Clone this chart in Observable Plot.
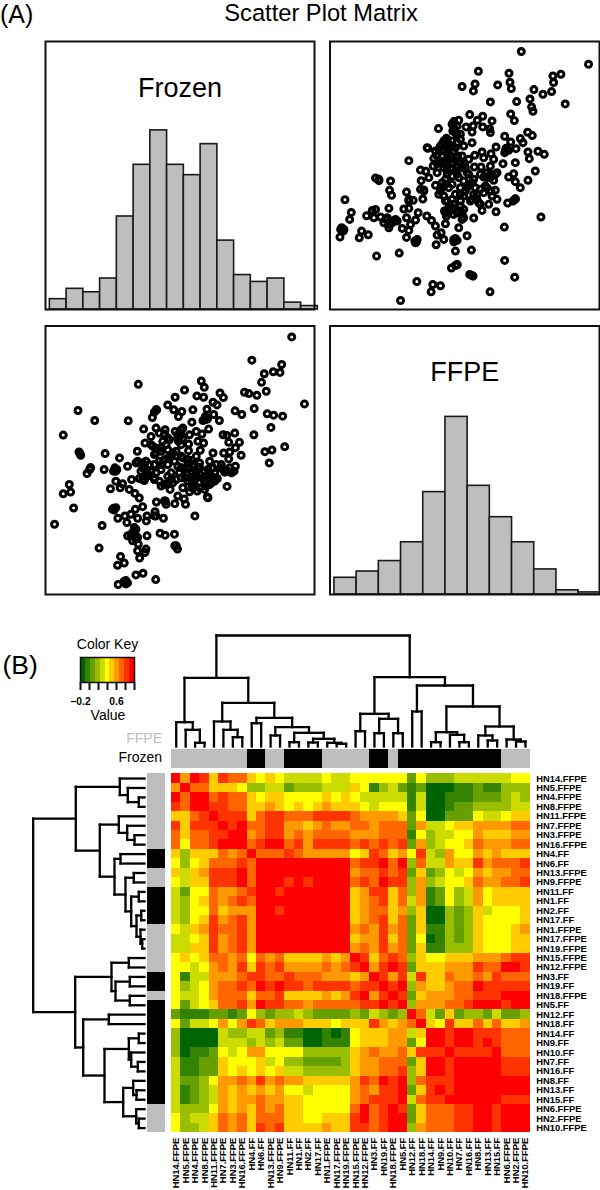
<!DOCTYPE html>
<html>
<head>
<meta charset="utf-8">
<script src="https://cdn.jsdelivr.net/npm/d3@7"></script>
<script src="https://cdn.jsdelivr.net/npm/@observablehq/plot@0.6"></script>
<style>
html,body{margin:0;padding:0;background:#fff;}
#page{position:relative;width:600px;height:1190px;overflow:hidden;font-family:"Liberation Sans",Arial,sans-serif;color:#000;}
#page svg{position:absolute;overflow:visible;background:transparent;}
.t{position:absolute;line-height:0.8;white-space:nowrap;}
</style>
</head>
<body>
<div id="page"></div>
<script>
// ---------- panel (A): histogram counts
const frozenEdges = [-4,-3.5,-3,-2.5,-2,-1.5,-1,-0.5,0,0.5,1,1.5,2,2.5,3,3.5,4];
const frozenCounts = [3,6,5,9,27,42,52,42,39,48,20,10,8,9,2,1];
const ffpeEdges = [-3,-2.5,-2,-1.5,-1,-0.5,0,0.5,1,1.5,2,2.5,3];
const ffpeCounts = [8,11,16,25,49,85,52,37,25,12,2,1];

// ---------- panel (A): paired scores (estimated, arbitrary units; frozen runs high-to-low)
const scorePairs = [
[603,62],[805,100],[474,121],[566,127],[722,130],[698,135],[700,155],[569,154],[464,159],[532,162],[425,167],[573,173],[459,180],[641,176],[694,182],[668,190],[629,204],[510,213],[589,212],[735,219],[634,228],[638,241],[448,251],[571,249],[487,256],[582,269],[471,268],[515,270],[415,268],[400,272],[395,280],[437,288],[458,285],[487,288],[508,294],[354,293],[510,305],[455,303],[397,300],[410,310],[622,304],[636,314],[553,316],[600,323],[571,333],[608,335],[455,335],[420,325],[378,322],[370,330],[360,345],[385,340],[405,350],[430,345],[322,352],[527,348],[587,353],[557,352],[553,365],[565,358],[653,361],[623,363],[672,370],[485,363],[463,373],[512,368],[627,383],[520,385],[490,380],[340,382],[365,375],[425,375],[400,360],[380,365],[345,360],[265,389],[585,395],[548,398],[338,405],[398,395],[432,398],[415,395],[373,390],[350,398],[462,408],[482,408],[510,405],[530,425],[300,417],[316,421],[645,420],[580,428],[565,438],[623,448],[585,452],[600,470],[165,441],[175,449],[210,450],[302,449],[325,440],[380,430],[405,420],[440,425],[490,438],[520,448],[415,440],[500,425],[365,455],[345,463],[207,478],[258,483],[213,493],[310,477],[300,475],[385,470],[430,450],[455,455],[465,470],[495,465],[525,478],[360,480],[490,485],[420,470],[370,495],[405,490],[435,480],[515,495],[530,505],[73,506],[307,504],[265,505],[278,508],[585,503],[578,510],[562,516],[455,505],[475,515],[505,520],[380,510],[395,505],[420,510],[485,538],[527,542],[430,535],[165,535],[155,538],[205,532],[250,534],[265,532],[92,544],[293,545],[372,540],[395,530],[410,545],[138,554],[160,560],[180,558],[200,560],[87,565],[258,560],[319,555],[333,568],[225,565],[285,567],[378,555],[400,550],[425,565],[460,561],[662,558],[190,575],[215,575],[205,590],[270,580],[345,585],[375,578],[552,588],[63,590],[68,600],[245,592],[265,598],[415,590],[58,618],[123,600],[143,611],[116,620],[350,612],[362,605],[440,614],[258,619],[370,625],[288,632],[283,630],[405,622],[400,632],[347,641],[236,666],[168,675],[405,660],[453,657],[553,688],[410,701],[393,711],[448,730],[458,735],[583,738],[289,751],[337,760],[360,764],[332,782],[509,782],[240,808],
[350,425],[395,415],[410,405],[375,445],[395,460],[445,430],[460,445],[470,490],[450,510],[420,525],[385,540],[430,495],[410,380],[445,385],[390,375],[370,410],[480,430],[510,440],
[375,335],[365,340],[375,345],[385,355],[395,345],[355,355],[368,360],[380,330],[395,330],[410,335],[350,375],[360,395],[375,400],[385,385],[400,385],[412,375],[420,395],[425,410],[435,410],[410,430],[395,435],[380,418],[375,460],[365,470],[355,490],[375,510],[420,490],[440,470],[445,460],[460,490],[470,505],[480,520],[400,520],[385,530],[415,540],[425,545],[375,545],[430,560],[510,430],[525,430],[500,440],[500,470],[480,475],[512,480],[70,595],[60,595],[285,635],[290,625],[400,625],[410,628],[175,445],[320,350],[265,510],[310,480],[585,505],[220,568],[230,570],[205,580],[195,565],[410,700],[405,703],[455,733],[560,352],[555,360],[420,310],[405,305],[400,290],[410,285]
];
const ffpeScoreDomain = [28,838];
const frozenScoreDomain = [835,32];

// ---------- panel (B): samples, in dendrogram order
const samples = ["HN14.FFPE","HN5.FFPE","HN4.FFPE","HN8.FFPE","HN11.FFPE","HN7.FFPE","HN3.FFPE","HN16.FFPE","HN4.FF","HN6.FF","HN13.FFPE","HN9.FFPE","HN11.FF","HN1.FF","HN2.FF","HN17.FF","HN1.FFPE","HN17.FFPE","HN19.FFPE","HN15.FFPE","HN12.FFPE","HN3.FF","HN19.FF","HN18.FFPE","HN5.FF","HN12.FF","HN18.FF","HN14.FF","HN9.FF","HN10.FF","HN7.FF","HN16.FF","HN8.FF","HN13.FF","HN15.FF","HN6.FFPE","HN2.FFPE","HN10.FFPE"];

// colour bands of the key, dark green to red
const palette = ["#006400","#338200","#66a000","#99be00","#ccdc00","#ffff00","#ffcc00","#ff9900","#ff6600","#ff3300","#ff0000"];
const keyMin = -0.2, keyMax = 1;
const keyTicks = [-0.2,0,0.2,0.4,0.6,0.8,1];
const keyLabels = new Map([[-0.2,"\u22120.2"],[0.6,"0.6"]]);

// correlation bands (0-a = band of the key): upper triangle, each row from the diagonal
const corrBands = [
"a7a969886565444454455555525333444444"+"55",
"a8866653344233344465134212000112"+"11333",
"aa89886566"+"5555656"+"5444441400"+"111222343",
"a99886676"+"5656766"+"6545551400"+"122333344",
"a9996899"+"8889999"+"8777762500"+"222544566",
"a9a8899"+"7767877"+"8878882744"+"566777788",
"aa7899"+"7878888"+"7778881534"+"455766677",
"a89aa"+"8979999"+"8989892734"+"556877788",
"a888"+"9877777"+"5698675943"+"755767666",
"aaaaaaaaaa"+"899a8a3844"+"766978889",
"aaaaaaaaa"+"7889892623"+"545767788",
"a9a9aaaa"+"898a993734"+"556877889",
"aaaaaaa"+"6799683712"+"534756666",
"aaaaaa"+"6789684712"+"534756666",
"aaaaa"+"6788673600"+"323645556",
"aaaa"+"6789682600"+"323655556",
"aaa"+"7879782611"+"323655567",
"aa"+"6779682501"+"323655566",
"a"+"7879782611"+"333655566",
"a968983655"+"666777899",
"a79a92666"+"777988aa9",
"a9794966"+"877879888",
"a9a3766"+"788a99999",
"a92677"+"788999aaa",
"a3777"+"889aaa9aa",
"a842"+"623324223",
"a65"+"966868667",
"aa9aa999888",
"a9aa9a9888",
"a9999a888",
"aaaaa999",
"aaaa999",
"aaaaaa",
"aaaaa",
"a999",
"aaa",
"aa",
"a"
];

// dendrograms: [height, left, right]; an integer is a sample index
const colTree = [111,
  [68.7,
    [24.3,0,[16.7,1,[3.7,2,3]]],
    [43.7,
      [25,4,[16.7,5,[9.3,6,7]]],
      [28.7,[23.3,8,9],[19.3,[11,10,11],[13.7,[4.3,12,13],[7.7,[4,14,15],[3.7,16,[2.7,17,18]]]]]]]],
  [69.3,
    [32.7,[15.3,19,20],[27.7,[13.3,21,22],[13.3,23,24]]],
    [61,[35,25,26],
      [40,
        [14.3,[4.3,27,28],[11.7,29,[4.3,30,31]]],
        [20,[11,32,[6,33,34]],[7,35,[5,36,37]]]]]]];
const rowTree = [111.3,
  [68.7,
    [24.7,0,[16.7,1,[5.7,2,3]]],
    [44.7,
      [25.7,4,[17.3,5,[10,6,7]]],
      [30,[24,8,9],[19,[10.7,10,11],[13.3,[5.7,12,13],[8,[3.3,14,15],[4,16,[2.3,17,18]]]]]]]],
  [69.3,
    [33,[15.7,19,20],[29,[14.7,21,22],[14.7,23,24]]],
    [61.3,[35.7,25,26],
      [40,
        [15.7,[5.7,27,28],[13.3,29,[6.7,30,31]]],
        [21.3,[11.3,32,[8,33,34]],[8.3,35,[5.7,36,37]]]]]]];

// ---------- helpers
const page = document.getElementById("page");
const font = '"Liberation Sans",Arial,sans-serif';
function panel(box, opts, extra){
  const [x0,y0,x1,y1] = box;
  const e = Object.assign({left:8,top:8,right:8,bottom:8},extra);
  const left = Math.floor(x0)-e.left, top = Math.floor(y0)-e.top;
  const right = Math.ceil(x1)+e.right, bottom = Math.ceil(y1)+e.bottom;
  const svg = Plot.plot(Object.assign({
    width:right-left, height:bottom-top,
    marginLeft:x0-left, marginTop:y0-top, marginRight:right-x1, marginBottom:bottom-y1,
    style:{fontFamily:font,background:"transparent",overflow:"visible"}
  },opts));
  svg.style.left = left+"px"; svg.style.top = top+"px";
  page.appendChild(svg);
  return svg;
}
function label(text,x,baseline,size,anchor,color){
  const d = document.createElement("div");
  d.className = "t"; d.textContent = text;
  d.style.fontSize = size+"px";
  d.style.top = (baseline-0.7465*size)+"px";
  d.style.left = x+"px";
  d.style.color = color||"#000";
  if(anchor==="middle") d.style.transform = "translateX(-50%)";
  if(anchor==="end") d.style.transform = "translateX(-100%)";
  page.appendChild(d);
}

// ---------- panel A
label("(A)",0,22.8,25);
label("Scatter Plot Matrix",321,21.6,23.7,"middle");

function histogram(box,edges,counts,yMax,xDomain,name){
  const bins = counts.map((n,i)=>({x1:edges[i],x2:edges[i+1],n}));
  panel(box,{
    x:{domain:xDomain,axis:null}, y:{domain:[0,yMax],axis:null},
    marks:[
      Plot.rectY(bins,{x1:"x1",x2:"x2",y:"n",fill:"#bebebe",stroke:"#1a1a1a",strokeWidth:1.6}),
      Plot.frame({stroke:"#111",strokeWidth:2}),
      Plot.text([name],{frameAnchor:"top",dy:36,fontSize:27,fill:"#000"})
    ]
  });
}
histogram([45,41,314,309],frozenEdges,frozenCounts,77.8,[-4.13,3.9],"Frozen");
histogram([329.5,325.5,599,594],ffpeEdges,ffpeCounts,128.5,[-3.1,2.97],"FFPE");

const ring = {r:3,fill:"none",stroke:"#000",strokeWidth:3};
panel([329.5,41,599,309],{
  x:{domain:ffpeScoreDomain,axis:null}, y:{domain:frozenScoreDomain,axis:null},
  marks:[Plot.dot(scorePairs,{x:d=>d[0],y:d=>d[1],...ring}),Plot.frame({stroke:"#111",strokeWidth:2})]
});
panel([45,325.5,314,594],{
  x:{domain:frozenScoreDomain,axis:null}, y:{domain:ffpeScoreDomain,axis:null},
  marks:[Plot.dot(scorePairs,{x:d=>d[1],y:d=>d[0],...ring}),Plot.frame({stroke:"#111",strokeWidth:2})]
});

// ---------- panel B
label("(B)",2.5,675,26.5);
label("Color Key",107.5,649,14,"middle");
label("Value",108,720,14,"middle");
label("FFPE",162,743,14,"end","#bebebe");
label("Frozen",162,762,14,"end");

const bandWidth = (keyMax-keyMin)/palette.length;
const thresholds = d3.range(1,palette.length).map(i=>keyMin+i*bandWidth);
const colorScale = {type:"threshold",domain:thresholds,range:palette};
const bandValue = i => keyMin+(i+0.5)*bandWidth;

// colour key
panel([80,657,134,682],{
  x:{domain:[keyMin,keyMax],axis:null}, color:colorScale,
  marks:[
    Plot.rect(palette.map((_,i)=>i),{x1:i=>keyMin+i*bandWidth,x2:i=>keyMin+(i+1)*bandWidth,fill:i=>bandValue(i),shapeRendering:"crispEdges"}),
    Plot.frame({stroke:"#111",strokeWidth:1.5}),
    Plot.axisX(keyTicks,{anchor:"bottom",label:null,tickSize:8,tickPadding:7,strokeWidth:2,stroke:"#111",fontSize:10.3,fontWeight:"bold",tickFormat:d=>keyLabels.get(d)||""})
  ]
},{left:16,right:12,bottom:26});

// correlation matrix, mirrored from the upper triangle
const n = samples.length;
const corr = [];
corrBands.forEach((s,r)=>{
  [...s].forEach((ch,k)=>{
    const v = bandValue(parseInt(ch,16));
    corr.push({row:samples[r],col:samples[r+k],v});
    if(k) corr.push({row:samples[r+k],col:samples[r],v});
  });
});

const HX0=171,HX1=529.7,HY0=773.3,HY1=1132.3;
panel([HX0,HY0,HX1,HY1],{
  x:{domain:samples,padding:0,round:false}, y:{domain:samples,padding:0,round:false},
  color:colorScale,
  marks:[
    Plot.cell(corr,{x:"col",y:"row",fill:"v",shapeRendering:"crispEdges"}),
    Plot.axisY({anchor:"right",label:null,tickSize:0,tickPadding:6,fontSize:9.4,fontWeight:"bold",fill:"#000"}),
    Plot.axisX({anchor:"bottom",label:null,tickSize:0,tickPadding:5,tickRotate:-90,fontSize:9.4,fontWeight:"bold",fill:"#000"})
  ]
},{right:70,bottom:57,top:2,left:2});

// sample type bars
const kind = s => s.endsWith("FFPE")?"FFPE":"Frozen";
const kindColor = {domain:["FFPE","Frozen"],range:["#bebebe","#000"]};
panel([HX0,749.3,HX1,767.7],{
  x:{domain:samples,padding:0,round:false,axis:null}, color:kindColor,
  marks:[Plot.cell(samples,{x:d=>d,fill:kind,shapeRendering:"crispEdges"})]
},{top:1,bottom:1,left:1,right:1});
panel([146.7,HY0,165,HY1],{
  y:{domain:samples,padding:0,round:false,axis:null}, color:kindColor,
  marks:[Plot.cell(samples,{y:d=>d,fill:kind,shapeRendering:"crispEdges"})]
},{top:1,bottom:1,left:1,right:1});

// dendrograms
function segments(node,out){
  if(typeof node==="number") return {pos:node,h:0};
  const [h,a,b] = node;
  const A = segments(a,out), B = segments(b,out);
  out.push({p1:A.pos,h1:A.h,p2:A.pos,h2:h},{p1:A.pos,h1:h,p2:B.pos,h2:h},{p1:B.pos,h1:h,p2:B.pos,h2:B.h});
  return {pos:(A.pos+B.pos)/2,h};
}
const colSegs=[]; segments(colTree,colSegs);
const rowSegs=[]; segments(rowTree,rowSegs);
const leafDomain=[-0.5,n-0.5];
const treeStyle={stroke:"#000",strokeWidth:2.3,strokeLinecap:"square"};
panel([HX0,635,HX1,746],{
  x:{domain:leafDomain,axis:null}, y:{domain:[0,111],axis:null},
  marks:[Plot.link(colSegs,{x1:"p1",y1:"h1",x2:"p2",y2:"h2",...treeStyle})]
},{top:3,bottom:2,left:1,right:1});
panel([32.7,HY0,144,HY1],{
  x:{domain:[111.3,0],axis:null}, y:{domain:[n-0.5,-0.5],axis:null},
  marks:[Plot.link(rowSegs,{x1:"h1",y1:"p1",x2:"h2",y2:"p2",...treeStyle})]
},{top:1,bottom:1,left:3,right:2});
</script>
</body>
</html>
